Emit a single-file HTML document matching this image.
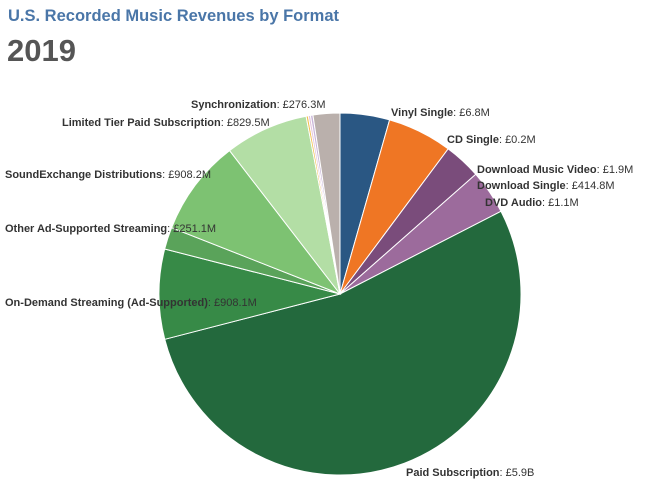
<!DOCTYPE html>
<html><head><meta charset="utf-8"><style>
body{margin:0;background:#fff;width:648px;height:499px;overflow:hidden}
svg{display:block}
text{font-family:"Liberation Sans",sans-serif;font-size:11px;fill:#333}
.b{font-weight:bold}
</style></head><body>
<svg id="s" width="648" height="499" viewBox="0 0 648 499">
<text x="8" y="21" style="font-size:16.5px;font-weight:bold;fill:#4a76a8">U.S. Recorded Music Revenues by Format</text>
<text x="7" y="61" style="font-size:31px;font-weight:bold;fill:#555">2019</text>
<g id="pie"></g>
<g>
<text x="191" y="108"><tspan class="b">Synchronization</tspan>: £276.3M</text>
<text x="62" y="126"><tspan class="b">Limited Tier Paid Subscription</tspan>: £829.5M</text>
<text x="5" y="178"><tspan class="b">SoundExchange Distributions</tspan>: £908.2M</text>
<text x="5" y="232"><tspan class="b">Other Ad-Supported Streaming</tspan>: £251.1M</text>
<text x="5" y="306"><tspan class="b">On-Demand Streaming (Ad-Supported)</tspan>: £908.1M</text>
<text x="391" y="116"><tspan class="b">Vinyl Single</tspan>: £6.8M</text>
<text x="447" y="143"><tspan class="b">CD Single</tspan>: £0.2M</text>
<text x="477" y="173"><tspan class="b">Download Music Video</tspan>: £1.9M</text>
<text x="477" y="189"><tspan class="b">Download Single</tspan>: £414.8M</text>
<text x="485" y="206"><tspan class="b">DVD Audio</tspan>: £1.1M</text>
<text x="406" y="476"><tspan class="b">Paid Subscription</tspan>: £5.9B</text>
</g>
</svg>
<script>
var cx=340,cy=294,r=181;
var sl=[[0,15.9,"#2a5783"],[15.9,36.7,"#ef7624"],[36.7,48.6,"#7a4c7b"],[48.6,62.8,"#9c6b9c"],[62.8,255.5,"#23693d"],[255.5,284.4,"#378a47"],[284.4,291.5,"#5aa35a"],[291.5,322.4,"#7dc272"],[322.4,349.2,"#b3dea5"],[349.2,349.9,"#f2c14e"],[349.9,350.6,"#e3c2dc"],[350.6,351.4,"#c9b6d9"],[351.4,360,"#bab0ac"]];
function p(a){a=a*Math.PI/180;return [cx+r*Math.sin(a),cy-r*Math.cos(a)];}
var g=document.getElementById("pie"),h="";
sl.forEach(function(s){var a=p(s[0]),b=p(s[1]);var l=(s[1]-s[0])>180?1:0;
h+='<path d="M'+cx+','+cy+'L'+a[0].toFixed(2)+','+a[1].toFixed(2)+'A'+r+','+r+' 0 '+l+' 1 '+b[0].toFixed(2)+','+b[1].toFixed(2)+'Z" fill="'+s[2]+'" stroke="#fff" stroke-width="1"/>';});
g.innerHTML=h;
</script>
</body></html>
